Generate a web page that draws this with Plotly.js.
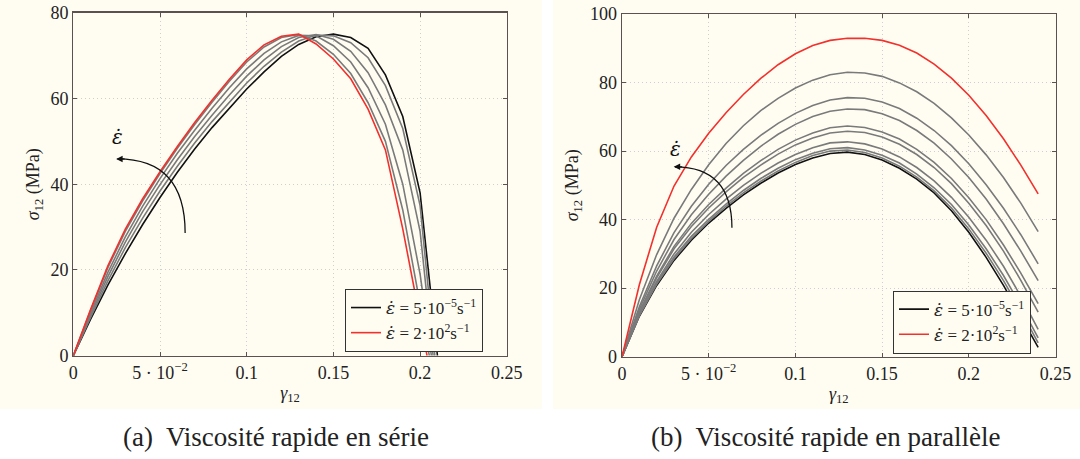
<!DOCTYPE html>
<html>
<head>
<meta charset="utf-8">
<script src="https://cdn.plot.ly/plotly-3.0.1.min.js"></script>
<style>html,body{margin:0;padding:0;background:#fff;}#chart{width:1080px;height:459px;}</style>
</head>
<body>
<div id="chart"></div>
<script>
// ---------- data ----------
// (a) series viscosity
const gammaL = [0,0.01,0.02,0.03,0.04,0.05,0.06,0.07,0.08,0.09,0.10,0.11,0.12,0.13,0.14,0.15,0.16,0.17,0.18,0.19,0.20];
const leftBlack = [0,8.5,16.5,23.8,30.6,36.9,42.8,48.2,53.2,57.8,62.2,66.2,69.8,72.6,74.4,75,74.2,71.7,65.5,55.8,38];
const leftG1 = [0,9,17.5,25.2,32.1,38.4,44.2,49.6,54.6,59.2,63.6,67.5,70.8,73.4,74.8,74.6,73,69.5,63,53,35];
const leftG2 = [0,9.5,18.5,26.5,33.6,39.9,45.7,51.1,56.1,60.8,65.2,69,72.1,74.2,74.9,73.8,71,66,58.5,48,29];
const leftG3 = [0,10,19.5,27.7,34.9,41.3,47.2,52.6,57.7,62.5,66.9,70.5,73.2,74.7,74.6,72.3,68.5,62.5,54,40,19];
const leftG4 = [0,10.6,20.6,29,36.1,42.5,48.4,53.9,59.1,64,68.5,72,74.2,74.9,73.4,70.3,65.8,59,50,34,12];
const leftRed = [0,10.8,21,29.5,36.6,42.9,48.8,54.4,59.6,64.5,69,72.5,74.5,75,72.7,69.2,64.6,57.5,48,29.6,8.5];
// strain where each curve of (a) returns to zero: black, g1, g2, g3, g4, red
const leftEnd = [0.21,0.2085,0.2075,0.2065,0.2053,0.204];

// (b) parallel viscosity
const gammaR = [0,0.01,0.02,0.03,0.04,0.05,0.06,0.07,0.08,0.09,0.10,0.11,0.12,0.13,0.14,0.15,0.16,0.17,0.18,0.19,0.20,0.21,0.22,0.23,0.24];
const rightBlack = [0,11.8,20.8,28.1,34,39,43.3,47.2,50.6,53.6,56.1,58,59.3,59.7,59,57.4,55,51.8,47.8,42.6,36.3,29,20.8,11.9,2.7];
const rightG8 = [0,12,21.2,28.6,34.5,39.5,43.9,47.8,51.2,54.2,56.7,58.7,60,60.3,59.6,58,55.6,52.4,48.4,43.4,37.3,30.2,22.2,13.4,4];
const rightG7 = [0,12.1,21.5,29.1,35.1,40.1,44.5,48.5,52,55,57.5,59.4,60.7,61,60.3,58.8,56.5,53.3,49.3,44.4,38.4,31.5,23.7,14.9,5.5];
const rightG6 = [0,12.3,22,30,36.3,41.5,46,50,53.5,56.5,59,61,62.4,62.7,62.1,60.6,58.3,55.2,51.3,46.5,40.7,34,26.4,17.6,8];
const rightG5 = [0,12.8,23,31.5,38,43.4,48.1,52.3,55.9,59.1,61.8,63.8,65.3,65.8,65.4,64.1,62,59,55.2,50.5,44.8,38.3,30.8,22.3,13];
const rightG4 = [0,13,23.5,32.2,38.9,44.4,49.2,53.5,57.2,60.5,63.2,65.3,66.8,67.3,66.9,65.6,63.5,60.5,56.7,52,46.4,40,32.6,24.4,15.5];
const rightG3 = [0,13.8,25,34.2,41.4,47.4,52.7,57.3,61.4,64.9,67.8,70.1,71.6,72.3,72.1,70.9,68.9,66,62.3,57.7,52.3,46,38.8,30.8,22.2];
const rightG2 = [0,14.6,26.5,36.2,43.9,50.3,55.8,60.5,64.6,68.1,71,73.3,74.9,75.6,75.4,74.3,72.4,69.6,66,61.6,56.3,50.2,43.3,35.6,27.1];
const rightG1 = [0,16.6,29.8,40.4,48.8,56,62.2,67.4,71.8,75.4,78.4,80.7,82.3,83,82.8,81.8,79.9,77.3,73.9,69.7,64.7,58.9,52.3,44.8,36.5];
const rightRed = [0,21,37.8,49.8,58.3,65.2,71.2,76.5,81.2,85.2,88.4,90.8,92.3,92.9,92.9,92.3,90.9,88.6,85.4,81.3,76.3,70.4,63.6,55.9,47.5];

// ticks and labels
const xTickVals = [0,0.05,0.1,0.15,0.2,0.25];
const xTickText = ['0','5 · 10<sup>−2</sup>','0.1','0.15','0.2','0.25'];
const yTickValsL = [0,20,40,60,80];
const yTickValsR = [0,20,40,60,80,100];
const EPSDOT = '<span style="font-family:DejaVu Serif;font-style:italic">ε̇</span>';
const legendSlow = EPSDOT + ' = 5·10<sup>−5</sup>s<sup>−1</sup>';
const legendFast = EPSDOT + ' = 2·10<sup>2</sup>s<sup>−1</sup>';
const captionA = '(a)  Viscosité rapide en série';
const captionB = '(b)  Viscosité rapide en parallèle';

// ---------- styling ----------
const BLACK = '#111111', GREY = '#7a7a7a', RED = '#f2302c';
const CREAM = '#fffdf2', AXIS = '#5a5150';
const SERIF = 'Liberation Serif';

const traces = [];
function addL(arr, i, color, name, show){
  traces.push({type:'scatter', mode:'lines', x:gammaL.concat([leftEnd[i]]), y:arr.concat([0]), xaxis:'x', yaxis:'y',
    line:{color:color, width:1.6}, name:name||'', showlegend:!!show, legend:'legend', hoverinfo:'skip'});
}
addL(leftBlack,0,BLACK,legendSlow,true);
addL(leftG1,1,GREY); addL(leftG2,2,GREY); addL(leftG3,3,GREY); addL(leftG4,4,GREY);
addL(leftRed,5,RED,legendFast,true);

function addR(arr, color, name, show){
  traces.push({type:'scatter', mode:'lines', x:gammaR, y:arr, xaxis:'x2', yaxis:'y2',
    line:{color:color, width:1.6}, name:name||'', showlegend:!!show, legend:'legend2', hoverinfo:'skip'});
}
addR(rightBlack,BLACK,legendSlow,true);
[rightG8,rightG7,rightG6,rightG5,rightG4,rightG3,rightG2,rightG1].forEach(a=>addR(a,GREY));
addR(rightRed,RED,legendFast,true);

function xAx(domain, anchor){
  return {domain:domain, anchor:anchor, range:[0,0.25], tickvals:xTickVals, ticktext:xTickText,
    showline:true, linecolor:AXIS, linewidth:1.3, mirror:'ticks', ticks:'inside', ticklen:4, tickcolor:AXIS,
    showgrid:true, gridcolor:'#cfcfcf', griddash:'1px,3px', gridwidth:1, zeroline:false,
    tickfont:{family:SERIF, size:18, color:'#222'},
    title:{text:'<i>γ</i><sub>12</sub>', font:{family:SERIF, size:18, color:'#222'}, standoff:4}};
}
function yAx(domain, anchor, range, vals){
  return {domain:domain, anchor:anchor, range:range, tickvals:vals,
    showline:true, linecolor:AXIS, linewidth:1.3, mirror:'ticks', ticks:'inside', ticklen:4, tickcolor:AXIS,
    showgrid:true, gridcolor:'#cfcfcf', griddash:'1px,3px', gridwidth:1, zeroline:false,
    tickfont:{family:SERIF, size:18, color:'#222'},
    title:{text:'<i>σ</i><sub>12</sub> (MPa)', font:{family:SERIF, size:18, color:'#222'}, standoff:6}};
}

const W = 1080, H = 459;
const px = v => v/W, py = v => 1 - v/H;

const layout = {
  width:W, height:H, margin:{l:0,r:0,t:0,b:0},
  paper_bgcolor:'#ffffff', plot_bgcolor:'rgba(0,0,0,0)',
  xaxis: xAx([px(73.3), px(506.8)], 'y'),
  yaxis: yAx([py(355.7), py(12.7)], 'x', [0,80], yTickValsL),
  xaxis2: xAx([px(622), px(1055.5)], 'y2'),
  yaxis2: yAx([py(356.7), py(14)], 'x2', [0,100], yTickValsR),
  showlegend:true,
  legend:{x:px(345), y:py(289), xanchor:'left', yanchor:'top', bgcolor:CREAM, bordercolor:'#333', borderwidth:1,
    font:{family:SERIF, size:17, color:'#222'}, tracegroupgap:0, itemwidth:30},
  legend2:{x:px(893), y:py(290.6), xanchor:'left', yanchor:'top', bgcolor:CREAM, bordercolor:'#333', borderwidth:1,
    font:{family:SERIF, size:17, color:'#222'}, tracegroupgap:0, itemwidth:30},
  shapes:[
    {type:'rect', xref:'paper', yref:'paper', x0:0, x1:px(542), y0:py(409), y1:1, fillcolor:CREAM, line:{width:0}, layer:'below'},
    {type:'rect', xref:'paper', yref:'paper', x0:px(553), x1:1, y0:py(409), y1:1, fillcolor:CREAM, line:{width:0}, layer:'below'},
    {type:'path', xref:'x', yref:'y', path:'M 0.0645,28.6 Q 0.0645,45.9 0.0255,45.9', line:{color:'#111', width:1.3}},
    {type:'path', xref:'x2', yref:'y2', path:'M 0.0634,37.6 Q 0.0634,55.4 0.0305,55.4', line:{color:'#111', width:1.3}}
  ],
  annotations:[
    {xref:'x', yref:'y', x:0.0247, y:45.9, ax:10, ay:0, showarrow:true, arrowhead:2, arrowsize:1, arrowwidth:1.3, arrowcolor:'#111', text:''},
    {xref:'x2', yref:'y2', x:0.0298, y:55.4, ax:10, ay:0, showarrow:true, arrowhead:2, arrowsize:1, arrowwidth:1.3, arrowcolor:'#111', text:''},
    {xref:'x', yref:'y', x:0.0254, y:51, xanchor:'center', showarrow:false, text:EPSDOT, font:{family:'DejaVu Serif', size:20, color:'#111'}},
    {xref:'x2', yref:'y2', x:0.0306, y:60.5, xanchor:'center', showarrow:false, text:EPSDOT, font:{family:'DejaVu Serif', size:20, color:'#111'}},
    {xref:'paper', yref:'paper', x:px(276), y:py(437), xanchor:'center', yanchor:'middle', showarrow:false, text:captionA, font:{family:SERIF, size:27, color:'#222'}},
    {xref:'paper', yref:'paper', x:px(826), y:py(437), xanchor:'center', yanchor:'middle', showarrow:false, text:captionB, font:{family:SERIF, size:27, color:'#222'}}
  ]
};

Plotly.newPlot('chart', traces, layout, {displayModeBar:false, staticPlot:true});
</script>
</body>
</html>
